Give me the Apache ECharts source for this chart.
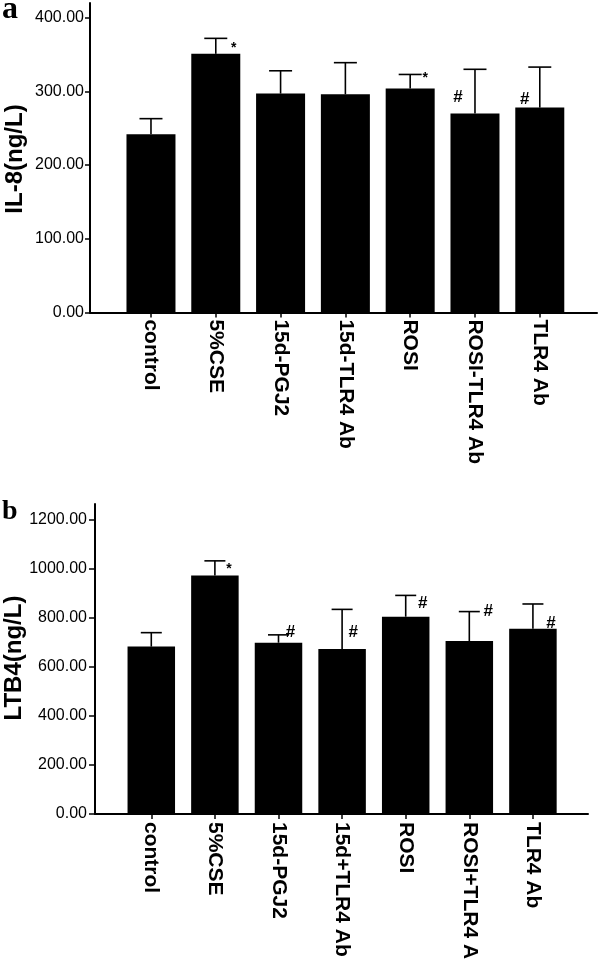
<!DOCTYPE html>
<html>
<head>
<meta charset="utf-8">
<script src="https://cdn.jsdelivr.net/npm/echarts@6/dist/echarts.min.js"></script>
<style>html,body{margin:0;padding:0;background:#fff}#c{width:600px;height:959px}</style>
</head>
<body>
<div id="c"></div>
<script>
// ---- data ----
const categoriesA = ['control', '5%CSE', '15d-PGJ2', '15d-TLR4 Ab', 'ROSI', 'ROSI-TLR4 Ab', 'TLR4 Ab'];
const categoriesB = ['control', '5%CSE', '15d-PGJ2', '15d+TLR4 Ab', 'ROSI', 'ROSI+TLR4 Ab', 'TLR4 Ab'];
const il8Mean = [242, 351, 297, 296, 304, 270, 278];
const il8Err  = [21, 21, 31, 43, 19, 60, 55];
const il8Mark = ['', '*', '', '', '*', '#', '#'];
const ltb4Mean = [683, 973, 699, 673, 805, 706, 756];
const ltb4Err  = [57, 60, 32, 162, 87, 120, 101];
const ltb4Mark = ['', '*', '#', '#', '#', '#', '#'];
const ticksA = [0, 100, 200, 300, 400];
const ticksB = [0, 200, 400, 600, 800, 1000, 1200];

// ---- style (annotation pixel offsets relative to error cap) ----
const markOffA = [[0,0],[18,10],[0,0],[0,0],[15,4],[-17,28],[-15,32]];
const markOffB = [[0,0],[14,8],[12,-3],[11,23],[17,8],[19,0],[18,19]];
const FONT = '"Liberation Sans", Arial, sans-serif';

const idx = categoriesA.map((_, i) => i);
const chart = echarts.init(document.getElementById('c'), null, {renderer: 'canvas'});

function xAxisCfg(gridIndex, cats, min, max, margin) {
  return {
    type: 'value', gridIndex, min, max,
    axisLine: {show: true, onZero: false, lineStyle: {color: '#000', width: 2}},
    axisTick: {show: true, customValues: idx, length: 5, lineStyle: {color: '#000', width: 1.5}},
    axisLabel: {customValues: idx, rotate: -90, margin, color: '#000',
      fontFamily: FONT, fontWeight: 'bold', fontSize: 21, padding: [9, 0, 0, 0],
      formatter: v => cats[Math.round(v)]},
    splitLine: {show: false}
  };
}
function yAxisCfg(gridIndex, ticks, max, margin, tickLen) {
  return {
    type: 'value', gridIndex, min: 0, max,
    axisLine: {show: true, onZero: false, lineStyle: {color: '#000', width: 2}},
    axisTick: {show: true, customValues: ticks, length: tickLen, lineStyle: {color: '#000', width: 1.5}},
    axisLabel: {customValues: ticks, margin, color: '#000', fontFamily: FONT, fontSize: 16,
      formatter: v => v.toFixed(2)},
    splitLine: {show: false}
  };
}
function errSeries(axisIndex, mean, err, capHalf) {
  return {
    type: 'custom', xAxisIndex: axisIndex, yAxisIndex: axisIndex, z: 5,
    data: mean.map((m, i) => [i, m, err[i]]),
    renderItem: (params, api) => {
      const x = api.value(0), v = api.value(1), e = api.value(2);
      const p0 = api.coord([x, v]), p1 = api.coord([x, v + e]);
      const st = {stroke: '#000', lineWidth: 1.6};
      return {type: 'group', children: [
        {type: 'line', shape: {x1: p0[0], y1: p0[1], x2: p1[0], y2: p1[1]}, style: st},
        {type: 'line', shape: {x1: p1[0] - capHalf, y1: p1[1], x2: p1[0] + capHalf, y2: p1[1]}, style: st}
      ]};
    }
  };
}
function markSeries(axisIndex, mean, err, marks, offs) {
  return {
    type: 'custom', xAxisIndex: axisIndex, yAxisIndex: axisIndex, z: 6,
    data: mean.map((m, i) => [i, m + err[i], i]),
    renderItem: (params, api) => {
      const i = api.value(2);
      const t = marks[i];
      if (!t) return null;
      const p = api.coord([api.value(0), api.value(1)]);
      const o = offs[i];
      return {type: 'text', x: p[0] + o[0], y: p[1] + o[1], style: {
        text: t, align: 'center', verticalAlign: 'middle', fill: '#000',
        font: 'bold ' + (t === '*' ? 14 : 17) + 'px ' + FONT}};
    }
  };
}

chart.setOption({
  animation: false,
  backgroundColor: '#fff',
  grid: [
    {left: 90, right: 3, top: 3, height: 309.4, outerBoundsMode: 'none', containLabel: false},
    {left: 95, right: 12, top: 504, height: 310, outerBoundsMode: 'none', containLabel: false}
  ],
  xAxis: [
    xAxisCfg(0, categoriesA, -0.941, 6.883, 7),
    xAxisCfg(1, categoriesB, -0.885, 6.866, 8)
  ],
  yAxis: [
    yAxisCfg(0, ticksA, 420, 6, 5),
    yAxisCfg(1, ticksB, 1265, 8, 6)
  ],
  series: [
    {type: 'bar', xAxisIndex: 0, yAxisIndex: 0, barWidth: 49, itemStyle: {color: '#000'},
      data: il8Mean.map((v, i) => [i, v])},
    errSeries(0, il8Mean, il8Err, 11.5),
    markSeries(0, il8Mean, il8Err, il8Mark, markOffA),
    {type: 'bar', xAxisIndex: 1, yAxisIndex: 1, barWidth: 47.5, itemStyle: {color: '#000'},
      data: ltb4Mean.map((v, i) => [i, v])},
    errSeries(1, ltb4Mean, ltb4Err, 10.5),
    markSeries(1, ltb4Mean, ltb4Err, ltb4Mark, markOffB)
  ],
  graphic: [
    {type: 'text', x: 2, y: 26, style: {text: 'a', fill: '#000', verticalAlign: 'bottom',
      font: 'bold 32px "Liberation Serif", "Times New Roman", serif'}},
    {type: 'text', x: 2, y: 526, style: {text: 'b', fill: '#000', verticalAlign: 'bottom',
      font: 'bold 28px "Liberation Serif", "Times New Roman", serif'}},
    {type: 'text', x: 15, y: 159, rotation: Math.PI / 2, style: {text: 'IL-8(ng/L)', fill: '#000',
      align: 'center', verticalAlign: 'middle', font: 'bold 24px ' + FONT}},
    {type: 'text', x: 14, y: 658, rotation: Math.PI / 2, style: {text: 'LTB4(ng/L)', fill: '#000',
      align: 'center', verticalAlign: 'middle', font: 'bold 24px ' + FONT}}
  ]
});
</script>
</body>
</html>
